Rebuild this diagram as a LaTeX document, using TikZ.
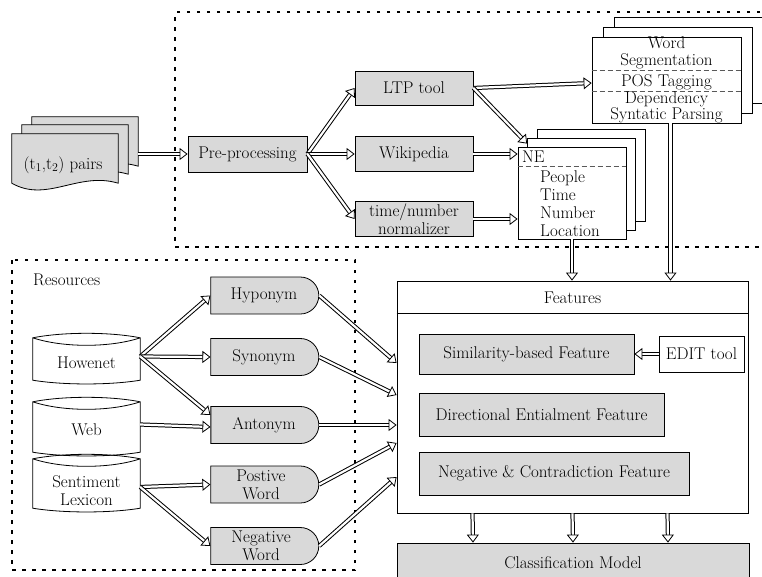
\documentclass[tikz,border=0pt]{standalone}
\usepackage{tikz}
\usetikzlibrary{arrows.meta,positioning,shapes.misc}

\definecolor{boxgray}{HTML}{D9D9D9}
\newcommand{\figfont}{\fontsize{17}{18}\selectfont}
\newcommand{\tightfont}{\fontsize{17}{16.5}\selectfont}

\begin{document}
\begin{tikzpicture}[
  x=1pt, y=-1pt,
  font=\figfont,
  proc/.style={draw,fill=boxgray,line width=0.8pt,minimum width=118pt,minimum height=35pt,align=center,inner sep=0pt},
  sheet/.style={draw,fill=white,line width=0.8pt,inner sep=0pt},
  term/.style={draw,fill=boxgray,line width=0.8pt,rounded rectangle,rounded rectangle west arc=none,minimum width=108pt,minimum height=37pt,align=center,inner sep=0pt},
  store/.style={minimum width=107pt,inner sep=0pt},
  txt/.style={inner sep=0pt},
  frame/.style={line width=1.8pt,dash pattern=on 3.5pt off 6.5pt},
  sep/.style={gray!70!black,line width=0.8pt,dash pattern=on 5pt off 3pt},
  arr/.style={double=white,double distance=2.2pt,line width=1pt,-{Triangle[open,length=8pt,width=12pt,line width=0.8pt,fill=white]}}
]
\useasboundingbox (0,0) rectangle (762,576);
\clip (0,0) rectangle (762,576);

% dotted frames
\draw[frame] (770,12) -- (175,12) -- (175,247) -- (770,247);
\draw[frame] (12,260) rectangle (355,570);

% input pairs
\node[store,minimum width=106pt,minimum height=49pt] (docC) at (85,141.5) {};
\node[store,minimum width=106pt,minimum height=49pt] (docB) at (75,149.5) {};
\node[store,minimum width=106pt,minimum height=49pt] (docA) at (65,158.5) {};
\foreach \d in {docC,docB,docA}
  \draw[fill=boxgray,line width=0.8pt] (\d.south west) -- (\d.north west) -- (\d.north east) -- (\d.south east)
    .. controls +(-40,-12) and +(35,20) .. (\d.south west) -- cycle;
\node[txt] (pairs) at (63,165) {(t\textsubscript{1},t\textsubscript{2}) pairs};

% preprocessing
\node[proc,minimum width=119pt,minimum height=36pt] (pre) at (247.5,154) {Pre-processing};
\node[proc,minimum height=34pt] (ltp) at (414,88) {LTP tool};
\node[proc] (wiki) at (414,154) {Wikipedia};
\node[proc] (norm) at (414,219) {time/number\\normalizer};

% LTP output
\node[sheet,minimum width=149pt,minimum height=86pt] (segC) at (688.5,60) {};
\node[sheet,minimum width=149pt,minimum height=86pt] (segB) at (677.5,70) {};
\node[sheet,minimum width=149pt,minimum height=86pt] (seg) at (666.5,80) {};
\draw[sep] ([yshift=-34pt]seg.north west) -- ([yshift=-34pt]seg.north east);
\draw[sep] ([yshift=-55pt]seg.north west) -- ([yshift=-55pt]seg.north east);
\node[txt,align=center,font=\tightfont] (segword) at (666.5,53) {Word\\Segmentation};
\node[txt] (segpos) at (666.5,82) {POS Tagging};
\node[txt,align=center,font=\tightfont] (segdep) at (666.5,107.5) {Dependency\\Syntatic Parsing};

% named entities
\node[sheet,minimum width=108pt,minimum height=92pt] (neC) at (591,175) {};
\node[sheet,minimum width=108pt,minimum height=92pt] (neB) at (581.5,184) {};
\node[sheet,minimum width=108pt,minimum height=92pt] (ne) at (572,193) {};
\draw[sep] ([yshift=-20pt]ne.north west) -- ([yshift=-20pt]ne.north east);
\node[txt,anchor=west] (netag) at (522,157) {NE};
\node[txt,anchor=west,align=left] (nelist) at (540,204) {People\\Time\\Number\\Location};

% resources
\node[txt,anchor=west] (reslabel) at (33,280) {Resources};
\node[store,minimum height=47pt,label={[yshift=-6pt]center:Howenet}] (hownet) at (86.5,356.5) {};
\node[store,minimum height=55pt,label={[yshift=-5pt]center:Web}] (web) at (86.5,424.5) {};
\node[store,minimum height=54pt,label={[align=center,yshift=-10pt]center:Sentiment\\Lexicon}] (senti) at (86.5,481) {};
\foreach \db in {hownet,web,senti}
  \draw[line width=0.8pt] ([yshift=-5pt]\db.north west) .. controls +(30,-6) and +(-30,-6) .. ([yshift=-5pt]\db.north east)
    -- (\db.south east) .. controls +(-30,5) and +(30,5) .. (\db.south west) -- cycle
    ([yshift=-5pt]\db.north west) .. controls +(30,10) and +(-30,10) .. ([yshift=-5pt]\db.north east);

\node[term] (hypo) at (264,295.5) {Hyponym};
\node[term] (syn) at (264,357) {Synonym};
\node[term] (ant) at (264,425) {Antonym};
\node[term] (pos) at (261,484.5) {Postive\\Word};
\node[term] (neg) at (261,546) {Negative\\Word};

% features
\node[draw,fill=white,line width=0.8pt,minimum width=351pt,minimum height=232pt] (features) at (572.5,397) {};
\draw[line width=0.8pt] ([yshift=-33pt]features.north west) -- ([yshift=-33pt]features.north east);
\node[txt] (feathead) at (572.5,298) {Features};
\node[proc,minimum width=215pt,minimum height=40pt] (sim) at (526.5,354) {Similarity-based Feature};
\node[draw,fill=white,line width=0.8pt,minimum width=85pt,minimum height=36pt,inner sep=0pt] (edit) at (701.5,354) {EDIT tool};
\node[proc,minimum width=245pt,minimum height=43pt] (dir) at (541.5,414.5) {Directional Entialment Feature};
\node[proc,minimum width=270pt,minimum height=43pt] (negc) at (554,473.5) {Negative \& Contradiction Feature};

\node[proc,minimum width=352pt,minimum height=39pt] (classif) at (573,562.5) {Classification Model};

% connectors
\draw[arr] (docC.east |- pre.west) -- (pre.west);
\draw[arr] (pre.east) -- (ltp.west);
\draw[arr] (pre.east) -- (wiki.west);
\draw[arr] (pre.east) -- (norm.west);
\draw[arr] (ltp.east) -- ([yshift=-3pt]seg.west);
\draw[arr] (ltp.east) -- ([yshift=-6pt]neB.north west);
\draw[arr] (wiki.east) -- (wiki.east -| ne.west);
\draw[arr] (norm.east) -- (norm.east -| ne.west);
\draw[arr] (ne.south) -- (ne.south |- features.north);
\draw[arr] ([xshift=4pt]seg.south) -- ([xshift=4pt]seg.south |- features.north);
\draw[arr] (edit.west) -- (sim.east);
\foreach \dx in {-100,0,95}
  \draw[arr] ([xshift=\dx pt]features.south) -- ([xshift=\dx pt]classif.north);

\draw[arr] (hownet.east) -- (hypo.west);
\draw[arr] (hownet.east) -- (syn.west);
\draw[arr] (hownet.east) -- ([yshift=10pt]ant.west);
\draw[arr] (web.east) -- ([yshift=-2pt]ant.west);
\draw[arr] ([yshift=-6pt]senti.east) -- (pos.west);
\draw[arr] ([yshift=-6pt]senti.east) -- (neg.west);
\foreach \s/\dy in {hypo/34,syn/2,ant/-28,pos/-46,neg/-80}
  \draw[arr] (\s.east) -- ([yshift=\dy pt]features.west);

\end{tikzpicture}
\end{document}
